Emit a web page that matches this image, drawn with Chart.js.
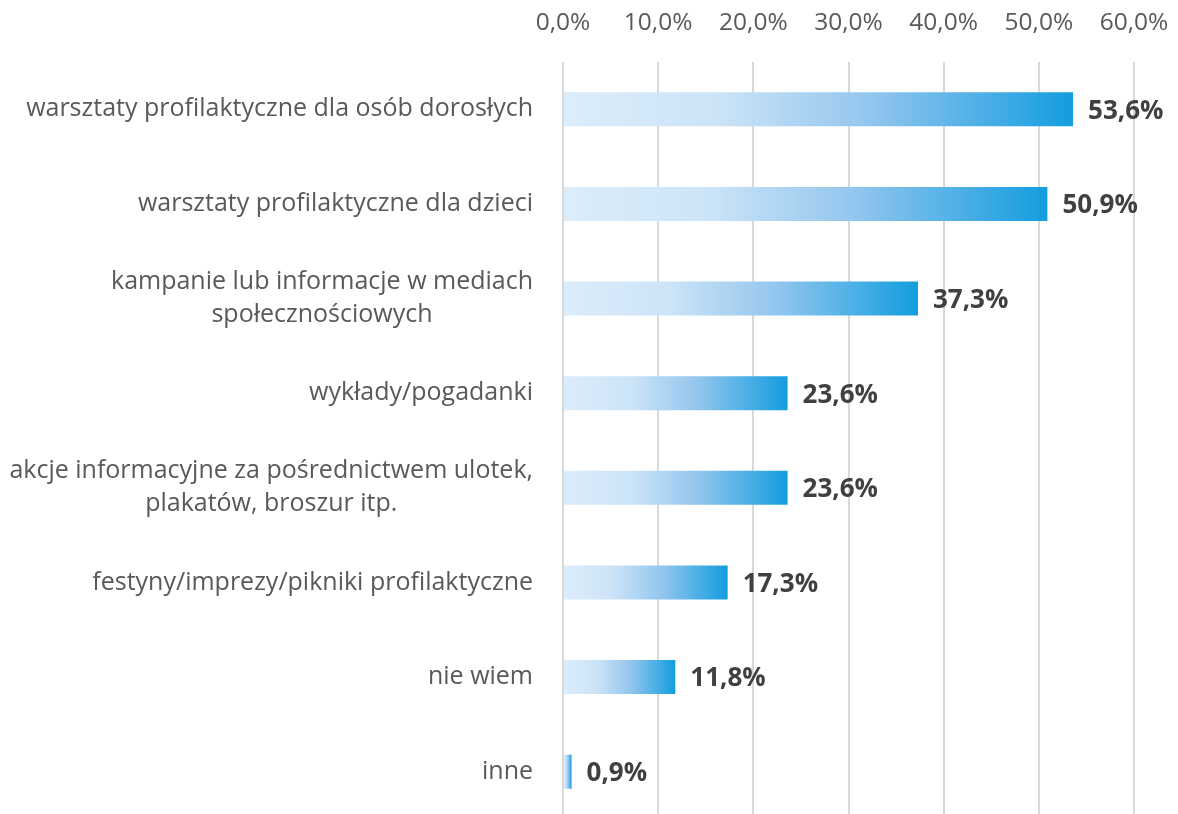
<!DOCTYPE html>
<html><head><meta charset="utf-8">
<script src="https://cdn.jsdelivr.net/npm/chart.js@4/dist/chart.umd.min.js"></script>
<style>html,body{margin:0;padding:0;background:#fff;overflow:hidden}#wrap{width:1178px;height:819px}</style>
</head><body><div id="wrap"><canvas id="c" width="1178" height="819"></canvas></div>
<script>
const categories = [
  ["warsztaty profilaktyczne dla osób dorosłych"],
  ["warsztaty profilaktyczne dla dzieci"],
  ["kampanie lub informacje w mediach", "społecznościowych"],
  ["wykłady/pogadanki"],
  ["akcje informacyjne za pośrednictwem ulotek,", "plakatów, broszur itp."],
  ["festyny/imprezy/pikniki profilaktyczne"],
  ["nie wiem"],
  ["inne"]
];
const values = [53.6, 50.9, 37.3, 23.6, 23.6, 17.3, 11.8, 0.9];
const tickValues = [0, 10, 20, 30, 40, 50, 60];

const fmt = v => v.toFixed(1).replace('.', ',') + '%';
const FONT = "'Open Sans', 'Noto Sans', sans-serif";

function barGradient(ctx) {
  const chart = ctx.chart;
  const area = chart.chartArea;
  if (!area || ctx.type !== 'data') return '#1a9de0';
  const xs = chart.scales.x;
  const x0 = xs.getPixelForValue(0);
  const x1 = xs.getPixelForValue(ctx.raw);
  const g = chart.ctx.createLinearGradient(x0, 0, Math.max(x1, x0 + 1), 0);
  g.addColorStop(0, '#dcedfb');
  g.addColorStop(0.3, '#cce4f7');
  g.addColorStop(0.6, '#93c6ee');
  g.addColorStop(1, '#139ddf');
  return g;
}

const labelPlugin = {
  id: 'customLabels',
  afterDraw(chart) {
    const c = chart.ctx;
    const ys = chart.scales.y;
    const meta = chart.getDatasetMeta(0);
    c.save();
    c.font = "25px " + FONT;
    c.fillStyle = '#595959';
    c.textBaseline = 'middle';
    c.textAlign = 'center';
    const right = chart.chartArea.left - 30;
    const lh = 33;
    categories.forEach((lines, i) => {
      const y = ys.getPixelForValue(i);
      const w = Math.max(...lines.map(l => c.measureText(l).width));
      const cx = right - w / 2;
      lines.forEach((l, j) => {
        c.fillText(l, cx, y + (j - (lines.length - 1) / 2) * lh);
      });
    });
    c.font = "bold 26px " + FONT;
    c.fillStyle = '#404040';
    c.textAlign = 'left';
    meta.data.forEach((bar, i) => {
      c.fillText(fmt(values[i]), bar.x + 15, bar.y + 2);
    });
    c.restore();
  }
};

new Chart(document.getElementById('c'), {
  type: 'bar',
  data: {
    labels: categories,
    datasets: [{
      data: values,
      backgroundColor: barGradient,
      borderWidth: 0,
      barPercentage: 0.36,
      categoryPercentage: 1
    }]
  },
  options: {
    indexAxis: 'y',
    responsive: false,
    animation: false,
    devicePixelRatio: 1,
    layout: { padding: 0 },
    plugins: { legend: { display: false }, tooltip: { enabled: false } },
    scales: {
      x: {
        position: 'top',
        min: 0, max: 60,
        afterBuildTicks: s => { s.ticks = tickValues.map(v => ({ value: v })); },
        ticks: {
          callback: v => fmt(v),
          color: '#595959',
          font: { family: FONT, size: 24.5 },
          padding: 24,
          maxRotation: 0
        },
        afterFit: s => { s.height = 62; s.paddingRight = 44; s.paddingLeft = 0; },
        grid: { color: '#d9d9d9', lineWidth: 2, drawTicks: false },
        border: { display: false }
      },
      y: {
        ticks: { display: false },
        grid: { display: false },
        border: { display: false },
        afterFit: s => { s.width = 563; }
      }
    }
  },
  plugins: [labelPlugin]
});
</script>
</body></html>
